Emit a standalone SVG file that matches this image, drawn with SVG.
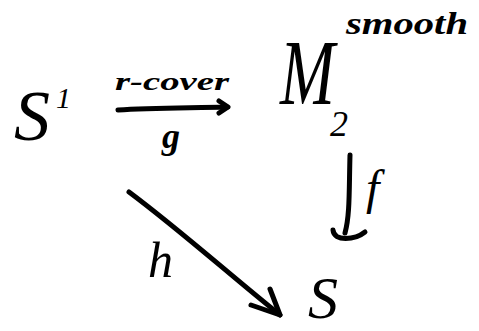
<svg xmlns="http://www.w3.org/2000/svg" width="479" height="331" viewBox="0 0 479 331">
<style>
.t{font-family:"Liberation Serif",serif;font-style:italic;fill:#000}
.b{font-weight:bold}
.s{fill:none;stroke:#000;stroke-width:5;stroke-linecap:round;stroke-linejoin:round}
</style>
<rect width="479" height="331" fill="#fff"/>
<g id="node-S1">
<text class="t" x="14" y="140" font-size="72">S</text>
<text class="t" x="56" y="108" font-size="30">1</text>
</g>
<g id="node-M2">
<text class="t" transform="translate(280,104) scale(0.7,1)" font-size="94">M</text>
<text class="t" x="330" y="136" font-size="36">2</text>
<text class="t b" x="346" y="34" font-size="32" textLength="122" lengthAdjust="spacingAndGlyphs">smooth</text>
</g>
<g id="node-S">
<text class="t" x="308" y="318" font-size="60">S</text>
</g>
<g id="connectors">
<g id="edge-g">
<path class="s" d="M118,110 C150,108 190,108 227,107"/>
<path class="s" d="M219,101 L228,107 L219,113"/>
<text class="t b" x="115" y="90" font-size="26" textLength="114" lengthAdjust="spacingAndGlyphs">r-cover</text>
<text class="t b" x="162" y="148" font-size="36">g</text>
</g>
<g id="edge-f">
<path class="s" d="M350,155 C349,190 350,215 345,233"/>
<path class="s" d="M333,230 C334,242 355,240 365,232"/>
<text class="t" x="366" y="204" font-size="48">f</text>
</g>
<g id="edge-h">
<path class="s" d="M129,192 C180,230 230,275 280,315"/>
<path class="s" d="M270,289 L280,315 L251,305"/>
<text class="t" x="148" y="277" font-size="50">h</text>
</g>
</g>
</svg>
